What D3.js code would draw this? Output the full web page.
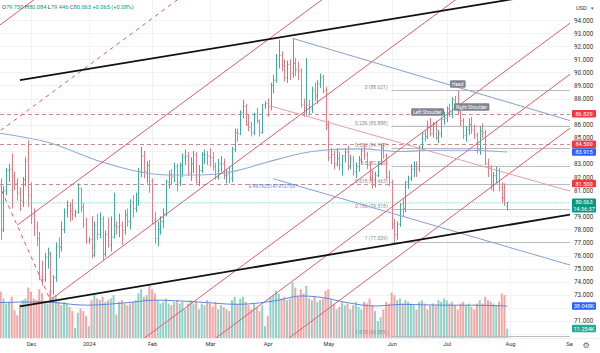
<!DOCTYPE html>
<html>
<head>
<meta charset="utf-8">
<script src="https://cdn.jsdelivr.net/npm/d3@7"></script>
<style>
  body { margin: 0; background: #fff; }
  svg { display: block; font-family: Roboto, "Liberation Sans", sans-serif; }
</style>
</head>
<body>
<div id="chart"></div>
<script>
// ---- data (daily bars, 2023-11-15 .. 2024-07-31, weekdays) ----
const firstBar = "2023-11-15";

const opens = [
  82.6, 81.6, 78.0, 81.0, 82.5, 82.6, 82.0, 81.5, 80.7, 80.1, 81.8, 83.3,
  80.6, 79.1, 78.2, 77.3, 74.4, 74.2, 75.8, 76.1, 73.3, 74.3, 76.7, 76.6, 78.0, 79.3, 79.8, 79.4, 79.1, 79.3, 81.1, 79.7, 78.4,
  77.1, 77.2, 76.0, 78.3, 77.6, 78.8, 76.1, 77.6, 76.8, 77.4, 78.3, 78.2, 78.3, 77.9, 79.1, 78.6, 80.1, 79.6, 80.1, 82.4, 83.6, 82.4, 82.9,
  81.7, 78.7, 77.3, 78.0, 78.6, 79.2, 81.6, 82.2, 82.0, 82.8, 81.6, 82.9, 83.5, 83.6, 82.3, 83.0, 83.7, 81.6, 82.5, 83.7, 83.7,
  83.6, 83.5, 82.8, 82.0, 83.0, 83.0, 82.1, 82.2, 81.9, 84.1, 85.4, 85.3, 86.9, 87.4, 86.0, 85.8, 85.4, 86.8, 86.3, 85.4, 87.5,
  87.6, 87.4, 89.0, 89.4, 91.0, 91.3, 90.5, 89.6, 90.6, 89.9, 90.7, 90.2, 90.1, 87.5, 87.3, 87.5, 87.2, 88.6, 88.2, 89.1, 89.6, 88.6,
  86.0, 83.5, 83.7, 83.0, 83.4, 82.9, 83.6, 83.9, 82.8, 83.4, 82.4, 82.8, 83.3, 84.0, 83.7, 82.9, 81.9, 81.4, 82.1, 83.0, 84.2, 83.6, 82.0,
  81.6, 78.4, 77.6, 78.4, 79.9, 79.6, 81.6, 81.9, 82.6, 82.8, 82.6, 84.3, 85.3, 85.1, 85.8, 85.3, 86.0, 85.0, 85.3, 86.4,
  86.5, 87.2, 86.9, 87.9, 87.6, 87.2, 86.3, 85.2, 85.6, 86.0, 85.6, 85.2, 84.1, 85.5, 85.4, 83.0, 82.7, 81.4, 82.1, 82.5, 81.2, 80.4, 79.75
];
const highs = [
  83.3, 81.9, 81.3, 82.7, 83.0, 83.8, 82.4, 81.9, 81.2, 82.0, 83.5, 84.8,
  81.6, 79.6, 78.6, 77.8, 75.6, 76.2, 76.6, 76.3, 74.5, 77.0, 77.4, 78.6, 79.6, 80.2, 80.1, 80.3, 79.5, 81.5, 81.2, 80.0, 78.9,
  77.4, 79.0, 78.6, 79.2, 79.3, 79.0, 77.9, 78.9, 79.0, 80.8, 78.6, 79.2, 78.6, 79.5, 79.6, 80.3, 80.6, 80.8, 82.7, 84.3, 84.0, 83.2, 83.3,
  81.9, 79.3, 78.6, 79.0, 79.6, 81.8, 82.5, 82.6, 83.1, 83.0, 83.1, 83.8, 84.1, 83.9, 83.5, 84.0, 83.9, 82.9, 83.9, 84.1, 84.0,
  84.2, 83.9, 83.1, 83.4, 83.6, 83.4, 82.6, 82.8, 84.3, 85.7, 85.7, 87.1, 87.9, 87.6, 86.8, 86.2, 86.9, 87.3, 86.4, 87.6, 87.8,
  88.0, 89.2, 89.8, 91.4, 92.5, 91.6, 91.0, 90.9, 91.0, 92.6, 91.1, 90.8, 90.3, 88.0, 91.1, 87.9, 88.9, 89.2, 89.4, 89.9, 89.8, 88.9,
  86.3, 84.2, 84.0, 84.2, 83.9, 83.7, 84.2, 84.4, 83.7, 83.6, 83.1, 83.6, 84.2, 84.5, 83.9, 83.2, 82.5, 82.4, 83.2, 84.5, 84.6, 83.8, 82.5,
  81.8, 78.8, 78.6, 80.0, 80.4, 81.7, 82.1, 83.0, 83.2, 83.2, 84.4, 85.4, 85.6, 86.3, 86.5, 86.2, 86.3, 85.6, 86.6, 87.0,
  87.4, 87.6, 88.1, 88.2, 88.62, 87.4, 86.5, 85.9, 86.5, 86.6, 86.0, 85.4, 85.9, 86.1, 85.6, 83.4, 82.9, 82.4, 82.8, 82.7, 81.6, 81.5, 80.084
];
const lows = [
  81.2, 77.2, 77.8, 80.6, 81.6, 79.6, 81.0, 80.2, 79.4, 79.7, 81.3, 79.7,
  78.4, 77.5, 76.7, 74.1, 73.7, 74.0, 75.0, 72.6, 73.0, 74.0, 75.8, 76.3, 77.7, 78.9, 78.6, 78.7, 78.9, 79.2, 79.3, 78.1, 76.9,
  76.9, 75.8, 75.9, 77.2, 77.3, 75.6, 75.9, 76.6, 76.3, 77.3, 77.6, 77.4, 76.8, 77.6, 78.2, 78.0, 78.9, 79.3, 79.8, 82.0, 81.9, 81.5, 80.8,
  78.4, 76.9, 76.7, 77.6, 78.1, 79.0, 81.1, 81.4, 81.6, 80.9, 81.3, 82.0, 82.9, 82.1, 81.7, 82.3, 81.5, 81.3, 82.3, 83.0, 82.9,
  82.8, 82.5, 81.8, 81.8, 82.4, 81.8, 81.5, 81.5, 81.6, 83.9, 84.7, 85.2, 86.5, 85.9, 85.5, 85.1, 85.2, 86.1, 85.1, 85.3, 87.2,
  86.6, 87.1, 88.4, 89.2, 90.3, 90.1, 89.3, 89.2, 89.4, 89.6, 89.7, 89.4, 87.3, 86.6, 86.7, 86.7, 86.9, 87.8, 87.6, 88.8, 88.4, 85.6,
  83.2, 83.0, 82.6, 82.8, 82.5, 82.1, 83.1, 82.5, 82.6, 82.1, 81.9, 82.4, 83.0, 83.3, 82.6, 81.7, 81.1, 81.2, 82.0, 82.9, 83.4, 81.8, 81.3,
  78.0, 77.04, 77.2, 78.2, 79.0, 79.3, 81.1, 81.7, 82.0, 82.0, 82.4, 84.0, 84.7, 84.9, 85.1, 85.0, 84.8, 84.6, 85.0, 86.0,
  86.2, 86.6, 86.5, 87.3, 86.8, 85.9, 84.9, 84.7, 85.2, 85.3, 84.9, 83.8, 83.7, 85.0, 82.9, 82.0, 81.0, 80.9, 81.5, 80.9, 80.0, 79.8, 79.446
];
const closes = [
  81.6, 77.9, 80.9, 82.5, 82.6, 82.1, 81.5, 80.8, 80.2, 81.8, 83.2, 80.6,
  79.0, 78.1, 77.3, 74.4, 74.2, 75.9, 76.1, 73.3, 74.3, 76.7, 76.6, 78.0, 79.3, 79.8, 79.4, 79.1, 79.3, 81.1, 79.7, 78.4, 77.1,
  77.2, 76.0, 78.3, 77.6, 78.8, 76.1, 77.6, 76.8, 77.4, 78.3, 78.2, 78.3, 77.9, 79.1, 78.6, 80.1, 79.6, 80.0, 82.4, 83.6, 82.4, 82.9, 81.7,
  78.7, 77.3, 78.0, 78.6, 79.2, 81.6, 82.2, 82.0, 82.8, 81.6, 82.9, 83.5, 83.6, 82.3, 83.0, 83.7, 81.6, 82.5, 83.7, 83.7, 83.6,
  83.5, 82.8, 82.0, 83.0, 83.0, 82.1, 82.2, 81.9, 84.1, 85.4, 85.3, 86.9, 87.4, 86.0, 85.8, 85.4, 86.8, 86.3, 85.4, 87.5, 87.6,
  87.4, 89.0, 89.4, 91.0, 91.3, 90.5, 89.6, 90.6, 89.9, 90.7, 90.2, 90.1, 87.5, 87.3, 87.5, 87.2, 88.6, 88.2, 89.1, 89.6, 88.6, 86.0,
  83.5, 83.7, 83.0, 83.4, 82.9, 83.6, 83.9, 82.8, 83.4, 82.4, 82.8, 83.3, 84.0, 83.7, 82.9, 81.9, 81.4, 82.1, 83.0, 84.2, 83.6, 82.0, 81.6,
  78.4, 77.6, 78.4, 79.9, 79.6, 81.6, 81.9, 82.6, 82.8, 82.6, 84.3, 85.3, 85.1, 85.8, 85.3, 86.0, 85.0, 85.3, 86.4, 86.5,
  87.2, 86.9, 87.9, 87.6, 87.2, 86.3, 85.2, 85.6, 86.0, 85.6, 85.2, 84.1, 85.5, 85.4, 83.0, 82.7, 81.4, 82.1, 82.5, 81.2, 80.4, 79.998, 80.063
];
// volume in thousands
const volumes = [
  49, 55, 47, 41, 43, 49, 33, 27, 40, 45, 47, 60,
  55, 47, 45, 58, 53, 43, 41, 56, 49, 51, 43, 39, 43, 41, 37, 32, 12, 30, 35, 32, 26,
  14, 45, 51, 47, 45, 49, 43, 45, 47, 51, 28, 43, 45, 41, 39, 41, 43, 45, 53, 58, 49, 51, 62,
  58, 53, 45, 41, 43, 47, 41, 39, 43, 45, 41, 43, 34, 41, 45, 41, 43, 34, 41, 39, 45,
  41, 37, 43, 34, 39, 37, 34, 32, 45, 49, 41, 47, 49, 43, 39, 34, 41, 37, 32, 39, 14,
  26, 49, 51, 56, 53, 47, 49, 45, 47, 66, 60, 49, 58, 53, 62, 47, 45, 49, 43, 45, 47, 56,
  58, 45, 41, 34, 37, 43, 39, 41, 34, 39, 43, 37, 34, 43, 41, 47, 39, 32, 20, 25, 34, 43, 41,
  54, 51, 45, 47, 41, 45, 43, 41, 39, 34, 43, 45, 41, 34, 39, 41, 39, 45, 43, 47,
  45, 41, 43, 39, 34, 41, 43, 39, 41, 37, 34, 41, 45, 41, 49, 45, 43, 41, 39, 43, 53, 51, 11.254
];
const lastTime = "14:36:37";

// moving average
const maDates = ["2023-11-14", "2023-12-12", "2024-01-05", "2024-01-23", "2024-02-09", "2024-02-26", "2024-03-13",
  "2024-04-01", "2024-04-17", "2024-04-29", "2024-05-17", "2024-06-06", "2024-06-24", "2024-07-11", "2024-07-31"];
const maValues = [85.4, 84.6, 83.2, 82.5, 82.15, 82.15, 82.4, 83.15, 83.8, 84.05, 84.15, 83.95, 84.05, 84.05, 83.915];

// volume moving average (thousands)
const volMaDates = ["2023-11-14", "2023-12-07", "2023-12-29", "2024-01-19", "2024-02-02", "2024-02-23", "2024-03-15",
  "2024-04-05", "2024-04-17", "2024-04-29", "2024-05-10", "2024-05-24", "2024-06-07", "2024-06-28", "2024-07-12", "2024-07-31"];
const volMaValues = [42, 43, 39, 42, 45, 43, 40, 45, 50, 48, 42, 38, 40, 39, 39, 38.048];

const monthTicks = ["2023-12-01", "2024-01-01", "2024-02-01", "2024-03-01", "2024-04-01", "2024-05-01",
  "2024-06-03", "2024-07-01", "2024-08-01", "2024-09-02"];
const monthLabels = ["Dec", "2024", "Feb", "Mar", "Apr", "May", "Jun", "Jul", "Aug", "Sep"];
const priceTicks = [70, 71, 72, 73, 74, 75, 76, 77, 78, 79, 80, 81, 82, 83, 84, 85, 86, 87, 88, 89, 90, 91, 92, 93, 94];

// fibonacci retracement
const fibStart = "2024-06-03";
const fibLevels = [0, 0.236, 0.382, 0.5, 0.618, 0.786, 1, 1.618];
const fibPrices = [88.621, 85.888, 84.197, 82.830, 81.463, 79.518, 77.039, 69.881];

// horizontal alerts
const alertLevels = [86.829, 84.5, 81.5];

// drawings: [date, price] end points
const blackLines = [
  [["2023-11-27", 89.40], ["2024-09-02", 96.32]],
  [["2023-11-27", 72.12], ["2024-09-02", 79.13]]
];
const redLines = [
  [["2023-11-07", 92.57], ["2023-12-11", 96.31]],
  [["2023-11-24", 78.32], ["2024-05-03", 96.22]],
  [["2023-12-12", 72.61], ["2024-07-08", 95.82]],
  [["2024-01-25", 69.34], ["2024-09-06", 94.41]],
  [["2024-02-27", 68.88], ["2024-09-06", 90.51]],
  [["2024-04-04", 68.95], ["2024-09-06", 86.39]]
];
const redDashed = [
  [["2023-11-07", 84.47], ["2024-02-20", 96.14]],
  [["2023-11-14", 82.07], ["2023-12-12", 72.61]]
];
const blueLines = [
  [["2024-04-12", 92.6], ["2024-09-02", 86.3]],
  [["2024-04-03", 81.87], ["2024-09-02", 75.26]]
];
const pinkLine = [["2024-04-02", 87.43], ["2024-09-02", 80.91]];
const blueNote = { text: "0.481925147973705", date: "2024-03-21", price: 81.16 };

const hsLabels = ["Left Shoulder", "Head", "Right Shoulder"];
const hsDates = ["2024-06-20", "2024-07-05", "2024-07-12"];
const hsPrices = [86.97, 89.11, 87.35];

// ---- setup ----
const W = 600, H = 353, plotR = 570, plotB = 338;
const parse = d3.utcParse("%Y-%m-%d");
const fmt = d3.utcFormat("%Y-%m-%d");
const calendar = d3.utcDay.range(parse("2023-10-02"), parse("2024-10-01"))
  .filter(d => d.getUTCDay() % 6 !== 0);
const dayIndex = new Map(calendar.map((d, i) => [fmt(d), i]));
const ix = s => dayIndex.get(s);

const x = d3.scaleLinear().domain([ix("2023-12-01"), ix("2024-08-01")]).range([31, 510]);
const y = d3.scaleLinear().domain([70, 94]).range([334, 20]);
const v = d3.scaleLinear().domain([0, 38.048]).range([plotB, 306]);

const i0 = ix(firstBar);
const bars = closes.map((c, i) => ({
  i: i0 + i, o: opens[i], h: highs[i], l: lows[i], c: c, vol: volumes[i]
}));
const last = bars[bars.length - 1];
const prev = bars[bars.length - 2];

const svg = d3.select("#chart").append("svg").attr("width", W).attr("height", H);
const defs = svg.append("defs");
defs.append("clipPath").attr("id", "plot").append("rect").attr("width", plotR).attr("height", plotB);
defs.append("clipPath").attr("id", "xaxis").append("rect").attr("width", 573).attr("height", H);

const plot = svg.append("g").attr("clip-path", "url(#plot)");

// grid
plot.append("g").selectAll("line").data(priceTicks).join("line")
  .attr("x1", 0).attr("x2", plotR)
  .attr("y1", d => Math.round(y(d)) + 0.5).attr("y2", d => Math.round(y(d)) + 0.5)
  .attr("stroke", "#f0f2f6");
plot.append("g").selectAll("line").data(monthTicks).join("line")
  .attr("y1", 0).attr("y2", plotB)
  .attr("x1", d => Math.round(x(ix(d))) + 0.5).attr("x2", d => Math.round(x(ix(d))) + 0.5)
  .attr("stroke", "#f0f2f6");

// volume
plot.append("g").selectAll("rect").data(bars).join("rect")
  .attr("x", d => x(d.i) - 1)
  .attr("width", 2)
  .attr("y", d => v(d.vol))
  .attr("height", d => plotB - v(d.vol))
  .attr("fill", d => d.c >= d.o ? "#8fd1c9" : "#f4a5a5");

const lineDate = d3.line().x(d => x(ix(d[0]))).y(d => y(d[1]));

plot.append("path")
  .attr("d", d3.line().x(d => x(ix(d[0]))).y(d => v(d[1])).curve(d3.curveMonotoneX)(volMaDates.map((d, i) => [d, volMaValues[i]])))
  .attr("fill", "none").attr("stroke", "#5f86d8").attr("stroke-width", 1);

// alerts + last price line
plot.append("g").selectAll("line").data(alertLevels).join("line")
  .attr("x1", 0).attr("x2", plotR)
  .attr("y1", d => Math.round(y(d)) + 0.5).attr("y2", d => Math.round(y(d)) + 0.5)
  .attr("stroke", "#c98a90").attr("stroke-dasharray", "4,3");
plot.append("line")
  .attr("x1", 0).attr("x2", plotR)
  .attr("y1", Math.round(y(last.c)) + 0.5).attr("y2", Math.round(y(last.c)) + 0.5)
  .attr("stroke", "#bfe0db").attr("stroke-dasharray", "1,1");

// fibonacci
const fx = x(ix(fibStart));
const fib = plot.append("g");
fib.selectAll("line").data(fibPrices).join("line")
  .attr("x1", fx).attr("x2", plotR)
  .attr("y1", d => Math.round(y(d)) + 0.5).attr("y2", d => Math.round(y(d)) + 0.5)
  .attr("stroke", "#b8bbc3");
fib.selectAll("text").data(fibPrices).join("text")
  .attr("x", fx - 4).attr("y", d => y(d) - 1.5)
  .attr("text-anchor", "end").attr("font-size", 5).attr("fill", "#8a8d96")
  .text((d, i) => `${fibLevels[i]} (${d.toFixed(3)})`);

// OHLC bars
plot.append("g").selectAll("path").data(bars).join("path")
  .attr("d", d => {
    const xc = Math.round(x(d.i)) + 0.5;
    return `M${xc},${y(d.h)}V${y(d.l)}M${xc - 1},${y(d.o)}H${xc}M${xc},${y(d.c)}H${xc + 1}`;
  })
  .attr("fill", "none").attr("stroke-width", 1)
  .attr("stroke", d => d.c >= d.o ? "#3aae9f" : "#e57b84");

// moving average
plot.append("path")
  .attr("d", lineDate.curve(d3.curveMonotoneX)(maDates.map((d, i) => [d, maValues[i]])))
  .attr("fill", "none").attr("stroke", "#93a9d6").attr("stroke-width", 1.1);
lineDate.curve(d3.curveLinear);

// drawings
const draw = plot.append("g").attr("fill", "none");
draw.selectAll(".red").data(redLines).join("path").attr("d", lineDate)
  .attr("stroke", "#df5d69").attr("stroke-width", 1);
draw.selectAll(".redd").data(redDashed).join("path").attr("d", lineDate)
  .attr("stroke", "#df5d69").attr("stroke-width", 1).attr("stroke-dasharray", "4,4");
draw.selectAll(".blue").data(blueLines).join("path").attr("d", lineDate)
  .attr("stroke", "#86a0d2").attr("stroke-width", 1);
draw.append("path").attr("d", lineDate(pinkLine))
  .attr("stroke", "#e3a1a4").attr("stroke-width", 1);
draw.selectAll(".black").data(blackLines).join("path").attr("d", lineDate)
  .attr("stroke", "#111").attr("stroke-width", 1.8);

plot.append("text")
  .attr("x", x(ix(blueNote.date))).attr("y", y(blueNote.price))
  .attr("font-size", 5).attr("fill", "#5a7fd6")
  .text(blueNote.text);

// head & shoulders labels
const hs = plot.append("g").selectAll("g").data(hsLabels).join("g")
  .attr("transform", (d, i) => `translate(${x(ix(hsDates[i]))},${y(hsPrices[i])})`);
hs.append("rect").attr("fill", "#80848f").attr("rx", 1.2);
hs.append("text").attr("text-anchor", "middle").attr("dy", "0.35em")
  .attr("font-size", 4.8).attr("fill", "#fff").text(d => d);
hs.each(function () {
  const g = d3.select(this);
  const bb = g.select("text").node().getBBox();
  g.select("rect").attr("x", bb.x - 2).attr("y", -3.8).attr("width", bb.width + 4).attr("height", 7.6);
});

// x axis
svg.append("line").attr("x1", 0).attr("x2", W).attr("y1", plotB + 0.5).attr("y2", plotB + 0.5)
  .attr("stroke", "#eceef2");
const xAxis = svg.append("g")
  .attr("clip-path", "url(#xaxis)")
  .attr("transform", `translate(0,${plotB})`)
  .call(d3.axisBottom(x).tickValues(monthTicks.map(ix)).tickFormat((d, i) => monthLabels[i]).tickSize(0).tickPadding(4));
xAxis.select(".domain").remove();
xAxis.selectAll("text").attr("font-size", 5.7).attr("fill", "#333").attr("font-family", "Roboto, sans-serif");

// price tags
const tags = [
  { y: y(86.829), t: "86.829", c: "#f23645" },
  { y: y(84.5), t: "84.500", c: "#f23645" },
  { y: y(83.915), t: "83.915", c: "#2962ff" },
  { y: y(81.5), t: "81.500", c: "#f23645" },
  { y: y(last.c), t: last.c.toFixed(3), c: "#089981", sub: lastTime },
  { y: v(volMaValues[volMaValues.length - 1]), t: d3.format(".3f")(volMaValues[volMaValues.length - 1]) + "K", c: "#2962ff" },
  { y: v(last.vol), t: d3.format(".3f")(last.vol) + "K", c: "#22ab94" }
];

// y axis
const yAxis = svg.append("g")
  .attr("transform", `translate(${plotR},0)`)
  .call(d3.axisRight(y).tickValues(priceTicks).tickFormat(d3.format(".3f")).tickSize(0).tickPadding(4));
yAxis.select(".domain").remove();
yAxis.selectAll(".tick").filter(d => tags.some(t => Math.abs(y(d) - (t.sub ? t.y + 3 : t.y)) < (t.sub ? 9 : 6))).remove();
yAxis.selectAll("text").attr("font-size", 6.3).attr("fill", "#333").attr("font-family", "Roboto, sans-serif");

const tg = svg.append("g").selectAll("g").data(tags).join("g")
  .attr("transform", d => `translate(572,${d.y})`);
tg.append("rect").attr("x", 0).attr("y", -3.8).attr("width", 24)
  .attr("height", d => d.sub ? 14 : 7.6).attr("rx", 1).attr("fill", d => d.c);
tg.append("text").attr("x", 12).attr("dy", "0.35em").attr("text-anchor", "middle")
  .attr("font-size", 5.6).attr("fill", "#fff").text(d => d.t);
tg.filter(d => d.sub).append("text").attr("x", 12).attr("y", 6.6).attr("dy", "0.35em")
  .attr("text-anchor", "middle").attr("font-size", 5.6).attr("fill", "#fff").text(d => d.sub);

// header
const chg = last.c - prev.c;
const head = svg.append("text").attr("x", 2).attr("y", 9).attr("font-size", 5.7);
[["O", last.o], ["H", last.h], ["L", last.l], ["C", last.c]].forEach(([k, val]) => {
  head.append("tspan").attr("fill", "#444").text(k);
  head.append("tspan").attr("fill", "#089981").text(val.toFixed(3) + " ");
});
head.append("tspan").attr("fill", "#089981")
  .text(`${chg >= 0 ? "+" : ""}${chg.toFixed(3)} (${chg >= 0 ? "+" : ""}${(chg / prev.c * 100).toFixed(2)}%)`);

// currency + settings
svg.append("text").attr("x", 576).attr("y", 10).attr("font-size", 5.7).attr("fill", "#333").text("USD");
svg.append("text").attr("x", 591).attr("y", 10).attr("font-size", 5).attr("fill", "#555").text("▾");
svg.append("text").attr("x", 586).attr("y", 348).attr("text-anchor", "middle").attr("font-size", 8)
  .attr("font-family", "DejaVu Sans").attr("fill", "#666").text("⚙");
</script>
</body>
</html>
